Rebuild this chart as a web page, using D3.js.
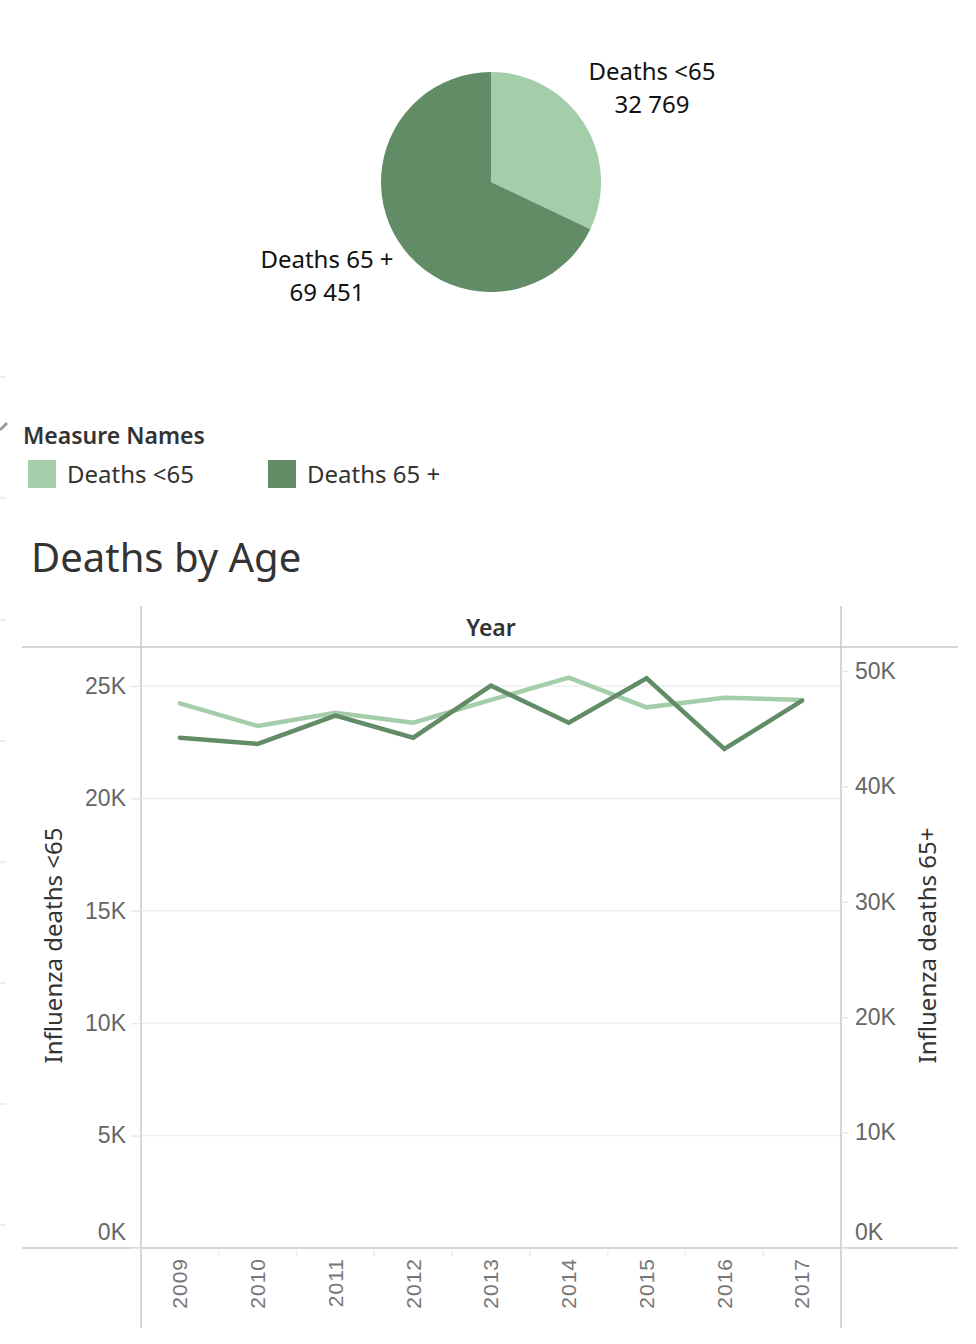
<!DOCTYPE html>
<html>
<head>
<meta charset="utf-8">
<script src="https://cdn.jsdelivr.net/npm/d3@7"></script>
<style>
  body { margin: 0; background: #fff; }
  svg { display: block; font-family: "Noto Sans", "Open Sans", sans-serif; }
</style>
</head>
<body>
<svg id="chart"></svg>
<script>
// ---- data ----
var measures = ["Deaths <65", "Deaths 65 +"];
var pieTotals = [32769, 69451];
var years = ["2009", "2010", "2011", "2012", "2013", "2014", "2015", "2016", "2017"];
var deathsUnder65 = [24230, 23220, 23810, 23370, 24380, 25370, 24050, 24480, 24380];
var deaths65Plus = [44220, 43680, 46130, 44220, 48730, 45520, 49370, 43250, 47430];
var leftTicks = [0, 5000, 10000, 15000, 20000, 25000];
var rightTicks = [0, 10000, 20000, 30000, 40000, 50000];

var svgWidth = 976, svgHeight = 1344;
var color = d3.scaleOrdinal().domain(measures).range(["#a3cea9", "#628c66"]);

var svg = d3.select("#chart").attr("width", svgWidth).attr("height", svgHeight);

var fmtNum = d3.formatLocale({decimal: ".", thousands: " ", grouping: [3], currency: ["", ""]}).format(",d");

// ---- pie ----
var pieG = svg.append("g").attr("transform", "translate(491,182)");
var pie = d3.pie().sort(null).value(function(d) { return d; });
var arc = d3.arc().innerRadius(0).outerRadius(110);
var slices = pie(pieTotals);

pieG.selectAll("path")
    .data(slices)
    .enter().append("path")
    .attr("d", arc)
    .attr("fill", function(d, i) { return color(measures[i]); });

var pieLabels = [
  {x: 652, y: 80},
  {x: 327, y: 268}
];
var pl = svg.append("g").attr("font-size", 24).attr("fill", "#111").attr("text-anchor", "middle");
pieLabels.forEach(function(p, i) {
  var t = pl.append("text").attr("x", p.x).attr("y", p.y);
  t.append("tspan").attr("x", p.x).text(measures[i]);
  t.append("tspan").attr("x", p.x).attr("dy", 33).text(fmtNum(pieTotals[i]));
});

// ---- dashboard edge marks ----
var edge = svg.append("g").attr("stroke", "#e8e8e8").attr("stroke-width", 1.5);
[377, 498, 620, 741, 862, 983, 1104, 1225].forEach(function(y) {
  edge.append("line").attr("x1", 0).attr("x2", 6).attr("y1", y).attr("y2", y);
});
svg.append("line").attr("x1", 0).attr("y1", 430).attr("x2", 7).attr("y2", 423)
   .attr("stroke", "#999").attr("stroke-width", 3);

// ---- legend ----
svg.append("text").attr("x", 23).attr("y", 444)
   .attr("font-size", 23).attr("font-weight", 600).attr("fill", "#333")
   .text("Measure Names");

var legend = svg.append("g")
  .selectAll("g")
  .data(measures)
  .enter().append("g")
    .attr("transform", function(d, i) { return "translate(" + (28 + i * 240) + ",460)"; });
legend.append("rect").attr("width", 28).attr("height", 28).attr("fill", color);
legend.append("text").attr("x", 39).attr("y", 23).attr("font-size", 24).attr("fill", "#333")
  .text(function(d) { return d; });

// ---- line chart ----
svg.append("text").attr("x", 31).attr("y", 572)
   .attr("font-size", 40).attr("fill", "#333").text("Deaths by Age");

var plot = {left: 141, right: 841, top: 647, bottom: 1248};

var x = d3.scaleBand().domain(years).range([plot.left, plot.right]);
var yLeft = d3.scaleLinear().domain([0, 25000]).range([plot.bottom, 686]);
var yRight = d3.scaleLinear().domain([0, 50000]).range([plot.bottom, 671]);

// gridlines
svg.append("g").selectAll("line")
  .data(leftTicks.filter(function(d) { return d > 0; }))
  .enter().append("line")
    .attr("x1", plot.left).attr("x2", plot.right)
    .attr("y1", function(d) { return yLeft(d); })
    .attr("y2", function(d) { return yLeft(d); })
    .attr("stroke", "#efefef").attr("stroke-width", 1.5);

// frame lines
var frame = svg.append("g").attr("stroke", "#c8c8c8").attr("stroke-width", 1.5);
frame.append("line").attr("x1", 22).attr("x2", 958).attr("y1", plot.top).attr("y2", plot.top);
frame.append("line").attr("x1", 22).attr("x2", 958).attr("y1", plot.bottom).attr("y2", plot.bottom);
frame.append("line").attr("x1", plot.left).attr("x2", plot.left).attr("y1", 606).attr("y2", 1328);
frame.append("line").attr("x1", plot.right).attr("x2", plot.right).attr("y1", 606).attr("y2", 1328);

svg.append("text").attr("x", (plot.left + plot.right) / 2).attr("y", 636)
   .attr("text-anchor", "middle").attr("font-size", 23).attr("font-weight", 600)
   .attr("fill", "#333").text("Year");

// left axis
var axL = svg.append("g")
  .attr("transform", "translate(" + plot.left + ",0)")
  .call(d3.axisLeft(yLeft).tickValues(leftTicks).tickSize(10).tickPadding(5)
        .tickFormat(function(d) { return (d / 1000) + "K"; }));
axL.select(".domain").remove();
axL.selectAll(".tick line").attr("stroke", "#e8e8e8").attr("stroke-width", 1.5);
axL.selectAll(".tick text").attr("font-size", 23).attr("fill", "#666").attr("font-family", null);
axL.selectAll(".tick").filter(function(d) { return d === 0; })
   .select("text").attr("dy", "-0.38em");

// right axis
var axR = svg.append("g")
  .attr("transform", "translate(" + plot.right + ",0)")
  .call(d3.axisRight(yRight).tickValues(rightTicks).tickSize(7).tickPadding(7)
        .tickFormat(function(d) { return (d / 1000) + "K"; }));
axR.select(".domain").remove();
axR.selectAll(".tick line").attr("stroke", "#e8e8e8").attr("stroke-width", 1.5);
axR.selectAll(".tick text").attr("font-size", 23).attr("fill", "#666").attr("font-family", null);
axR.selectAll(".tick").filter(function(d) { return d === 0; })
   .select("text").attr("dy", "-0.38em");

// axis titles
svg.append("text")
   .attr("transform", "translate(62," + ((plot.top + plot.bottom) / 2 - 2) + ") rotate(-90)")
   .attr("text-anchor", "middle").attr("font-size", 24).attr("fill", "#333")
   .text("Influenza deaths <65");
svg.append("text")
   .attr("transform", "translate(936," + ((plot.top + plot.bottom) / 2 - 2) + ") rotate(-90)")
   .attr("text-anchor", "middle").attr("font-size", 24).attr("fill", "#333")
   .text("Influenza deaths 65+");

// bottom axis (rotated years)
var axB = svg.append("g")
  .attr("transform", "translate(0," + plot.bottom + ")")
  .call(d3.axisBottom(x).tickSize(0));
axB.select(".domain").remove();
axB.selectAll(".tick text")
   .attr("font-size", 21).attr("fill", "#777").attr("font-family", null)
   .attr("letter-spacing", 1)
   .attr("transform", "rotate(-90)")
   .attr("x", -10).attr("y", 0).attr("dy", "0.35em")
   .style("text-anchor", "end");

// band separators under the axis
svg.append("g").selectAll("line")
  .data(years.slice(1))
  .enter().append("line")
    .attr("x1", function(d) { return x(d); })
    .attr("x2", function(d) { return x(d); })
    .attr("y1", plot.bottom + 2).attr("y2", plot.bottom + 8)
    .attr("stroke", "#eeeeee").attr("stroke-width", 1.5);

// lines
var cx = function(d, i) { return x(years[i]) + x.bandwidth() / 2; };
var lineL = d3.line().x(cx).y(function(d) { return yLeft(d); });
var lineR = d3.line().x(cx).y(function(d) { return yRight(d); });

svg.append("path").datum(deathsUnder65)
   .attr("d", lineL).attr("fill", "none")
   .attr("stroke", color(measures[0])).attr("stroke-width", 4.5)
   .attr("stroke-linejoin", "miter").attr("stroke-linecap", "round");
svg.append("path").datum(deaths65Plus)
   .attr("d", lineR).attr("fill", "none")
   .attr("stroke", color(measures[1])).attr("stroke-width", 4.5)
   .attr("stroke-linejoin", "miter").attr("stroke-linecap", "round");
</script>
</body>
</html>
